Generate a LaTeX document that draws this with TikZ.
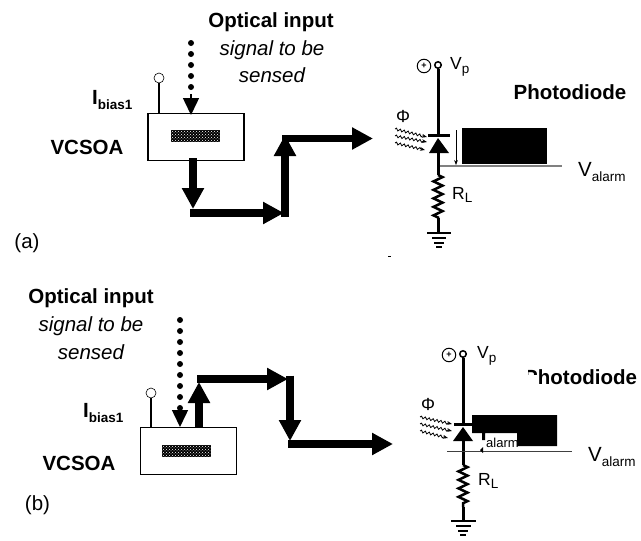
\documentclass[tikz,border=0pt]{standalone}
\usepackage{fontspec}
\setmainfont{Liberation Sans}
\usepackage{tikz}
\usetikzlibrary{%
	arrows.meta,%
	patterns,%
	decorations.pathmorphing%
}
\tikzset{
	boldlabel/.style={font=\fontsize{20.5}{22}\selectfont\bfseries,inner sep=0pt},
	plainlabel/.style={font=\fontsize{17.5}{20}\selectfont,inner sep=0pt},
	caplabel/.style={font=\fontsize{20.5}{22}\selectfont,inner sep=0pt},
	itlabel/.style={font=\fontsize{20.5}{22}\selectfont\itshape,inner sep=0pt},
	fatarrow/.style={line width=7.5pt,-{Triangle[width=21pt,length=21pt]}},
	dotarrow/.style={line width=6pt,dash pattern=on 0pt off 11pt,line cap=round},
	dothead/.style={line width=1.5pt,-{Triangle[width=16pt,length=17pt]}},
	soabox/.style={draw,line width=1.2pt,minimum width=96pt,minimum height=47pt,inner sep=0pt},
	cavity/.style={fill=black,postaction={pattern=crosshatch dots,pattern color=white},minimum width=49pt,minimum height=12pt,inner sep=0pt},
	pin/.style={draw,circle,fill=white,line width=0.6pt,minimum size=10pt,inner sep=0pt},
	wire/.style={line width=3pt},
	ray/.style={line width=0.8pt,decorate,decoration={snake,amplitude=1.2pt,segment length=4pt,post length=3pt},-{Stealth[length=5pt]}},
	rbar/.style={decorate,line width=2.5pt,decoration={zigzag,amplitude=4.5pt,segment length=8.5pt}},
	railpin/.style={draw,circle,fill=white,line width=1.5pt,minimum size=6.5pt,inner sep=0pt},
	plusmark/.style={draw,circle,line width=1pt,minimum size=13.5pt,inner sep=0pt,font=\fontsize{9}{9}\selectfont\bfseries}
}
\newcommand{\lowsub}[1]{\raisebox{-0.4ex}{\fontsize{13.5}{14}\selectfont #1}}
\begin{document}
\begin{tikzpicture}[x=1pt,y=-1pt]
\useasboundingbox (0,0) rectangle (641,541);

% Labels (a)
\node [boldlabel] (inputa) at (271,22) {Optical input};
\node [itlabel] (signala) at (272,50) {signal to be};
\node [itlabel] (sensa) at (272,75) {sensed};
\node [boldlabel,anchor=west] (biasa) at (92,100) {I\lowsub{bias1}};
\node [boldlabel] (vcsoaa) at (87,147) {VCSOA};
\node [caplabel] (capa) at (27,243) {(a)};

% VCSOA (a)
\node [soabox] (boxa) at (196,137) {};
\node [cavity] (cava) at (195,136) {};
\node [pin] (pina) at (159,78) {};
\draw [line width=1.2pt] (pina) -- (159,113);

% Optical input (a)
\coordinate (dota) at (191,43);
\coordinate (dotenda) at (191,94);
\coordinate (tipa) at (191,115);
\draw [dotarrow] (dota) -- (dotenda);
\draw [dothead] (dotenda) -- (tipa);

% Output (a)
\coordinate (a0) at (193,158);
\coordinate (a1) at (193,209);
\coordinate (a2) at (190,213);
\coordinate (a3) at (284,213);
\coordinate (a4) at (285,135);
\coordinate (a5) at (282,138.5);
\coordinate (a6) at (373,138.5);
\draw [fatarrow] (a0) -- (a1);
\draw [fatarrow] (a2) -- (a3);
\draw [fatarrow] (285,216.7) -- (a4);
\draw [fatarrow] (a5) -- (a6);

% Photodiode (a)
\node [railpin] (topa) at (438,65) {};
\node [plusmark] (plusa) at (424,66) {+};
\coordinate (bara) at (438,135);
\coordinate (basea) at (438,153);
\coordinate (resa) at (438,175);
\coordinate (resenda) at (438,218);
\coordinate (gnda) at (438,233);
\draw [wire] (topa) -- (bara);
\draw [line width=3pt] (428,135) -- (450,135);
\fill (438,138) -- (449,153) -- (429,153) -- cycle;
\draw [wire] (basea) -- (resa);
\draw [rbar] (resa) -- (resenda);
\draw [wire] (resenda) -- (gnda);
\draw [line width=2.5pt] (427,233) -- (451,233);
\draw [line width=2.5pt] (432,238) -- (446,238);
\draw [line width=2.5pt] (434,243) -- (444,243);
\draw [line width=2.5pt] (436,247) -- (442,247);
\draw [ray] (395,129) -- (427,137);
\draw [ray] (395,136) -- (427,142);
\draw [ray] (395,143) -- (425,150);
\node [plainlabel] (phia) at (403,116) {Φ};
\node [plainlabel,anchor=west] (vpa) at (450,67) {V\lowsub{p}};
\node [plainlabel,anchor=west] (rla) at (452,195) {R\lowsub{L}};
\node [boldlabel] (photoa) at (570,92) {Photodiode};
\fill (462,128) rectangle (547,164);
\draw [gray,line width=1.2pt] (440,166) -- (562,166);
\draw [line width=0.6pt,-{Stealth[length=5pt]}] (456,130) -- (456,165);
\node [caplabel,anchor=west] (vala) at (578,172) {V\lowsub{alarm}};
\fill (388,255.5) rectangle (391,257);

% Labels (b)
\node [boldlabel] (inputb) at (91,298) {Optical input};
\node [itlabel] (signalb) at (91,326) {signal to be};
\node [itlabel] (sensb) at (91,352) {sensed};
\node [boldlabel,anchor=west] (biasb) at (83,413) {I\lowsub{bias1}};
\node [boldlabel] (vcsoab) at (79,463) {VCSOA};
\node [caplabel] (capb) at (37.5,505) {(b)};

% VCSOA (b)
\node [soabox] (boxb) at (188.5,451) {};
\node [cavity] (cavb) at (186.5,451) {};
\node [pin] (pinb) at (151,393) {};
\draw [line width=1.2pt] (pinb) -- (151,427);

% Optical input (b)
\coordinate (dotb) at (180,320);
\coordinate (dotendb) at (180,409);
\coordinate (tipb) at (180,427);
\draw [dotarrow] (dotb) -- (dotendb);
\draw [dothead] (dotendb) -- (tipb);

% Output (b)
\coordinate (b0) at (199,427);
\coordinate (b1) at (199,382);
\coordinate (b2) at (197,379);
\coordinate (b3) at (288,379);
\coordinate (b4) at (290,375.5);
\coordinate (b5) at (290,441);
\coordinate (b6) at (288,444);
\coordinate (b7) at (393,444);
\draw [fatarrow] (b0) -- (b1);
\draw [fatarrow] (b2) -- (b3);
\draw [fatarrow] (b4) -- (b5);
\draw [fatarrow] (b6) -- (b7);

% Photodiode (b)
\node [railpin] (topb) at (463,354) {};
\node [plusmark] (plusb) at (449,355) {+};
\coordinate (barb) at (463,424);
\coordinate (baseb) at (463,441);
\coordinate (resb) at (463,465);
\coordinate (resendb) at (463,507);
\coordinate (gndb) at (463,521);
\draw [wire] (topb) -- (barb);
\draw [line width=3pt] (454,424) -- (473,424);
\fill (463,427) -- (473,441) -- (453,441) -- cycle;
\draw [wire] (baseb) -- (resb);
\draw [rbar] (resb) -- (resendb);
\draw [wire] (resendb) -- (gndb);
\draw [line width=2.5pt] (451,521) -- (476,521);
\draw [line width=2.5pt] (456,526) -- (471,526);
\draw [line width=2.5pt] (458,531) -- (468,531);
\draw [line width=2.5pt] (460,535) -- (466,535);
\draw [ray] (420,417) -- (452,424);
\draw [ray] (420,424) -- (452,431);
\draw [ray] (420,431) -- (448,438);
\node [plainlabel] (phib) at (428,404) {Φ};
\node [plainlabel,anchor=west] (vpb) at (477,356) {V\lowsub{p}};
\node [plainlabel,anchor=west] (rlb) at (478,481) {R\lowsub{L}};
\node [boldlabel,anchor=west] (photob) at (524,377) {Photodiode};
\fill [white] (520,362) rectangle (528,392);
\fill [white] (520,375) rectangle (537,392);
\node [font=\fontsize{13}{14}\selectfont,inner sep=0pt,anchor=west] (alarmb) at (486,443) {alarm};
\fill (472,415) -- (557,415) -- (557,446) -- (517,446) -- (517,433) -- (485,433) -- (485,440) -- (482,440) -- (482,433) -- (472,433) -- cycle;
\draw [darkgray,line width=0.8pt] (447,451) -- (572,451);
\fill (480,450) -- (483,453) -- (483,447) -- cycle;
\node [caplabel,anchor=west] (valb) at (588,457) {V\lowsub{alarm}};
\end{tikzpicture}
\end{document}
